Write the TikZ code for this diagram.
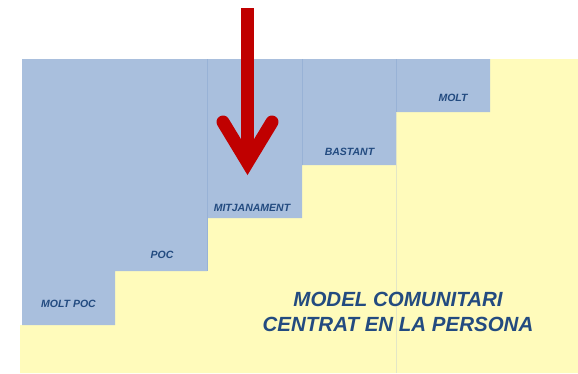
\documentclass[tikz,border=0pt]{standalone}
\usepackage{fontspec}
\setmainfont{Liberation Sans}
\usepackage{tikz}

\definecolor{stepblue}{HTML}{A9BFDD}
\definecolor{stepyellow}{HTML}{FFFBBB}
\definecolor{labelblue}{HTML}{234B80}
\definecolor{arrowred}{HTML}{C00000}
\definecolor{edgeblue}{HTML}{98B2D6}
\definecolor{edgeyellow}{HTML}{E3E6C6}

\tikzset{
  steplabel/.style={font=\fontsize{10.5}{12}\selectfont\bfseries\itshape,
    text=labelblue, anchor=base, inner sep=0pt},
  titlelabel/.style={font=\fontsize{20.5}{24.3}\selectfont\bfseries\itshape,
    text=labelblue, align=center, anchor=base, inner sep=0pt}
}

\begin{document}
\begin{tikzpicture}[x=1pt,y=-1pt]

    \useasboundingbox (0,0) rectangle (578,373);

    \fill[stepyellow] (20,373) |- (115,325) |- (207,271) |- (302,218)
      |- (396,165) |- (490,112) |- (578,59) -- (578,373) -- cycle;

    \fill[stepblue] (22,59) -- (490,59) -- (490,112) -| (396,165)
      -| (302,218) -| (207,271) -| (115,325) -- (22,325) -- cycle;

    \draw[edgeblue, line width=0.8] (207,59) -- (207,271);
    \draw[edgeblue, line width=0.8] (302,59) -- (302,165);
    \draw[edgeblue, line width=0.8] (396,59) -- (396,112);
    \draw[edgeyellow, line width=0.8] (396,112) -- (396,373);

    \node[steplabel] (moltpoc) at (68.5,307.7) {MOLT POC};
    \node[steplabel] (poc) at (162,258.3) {POC};
    \node[steplabel] (mitjanament) at (252,211.7) {MITJANAMENT};
    \node[steplabel] (bastant) at (349.5,155) {BASTANT};
    \node[steplabel] (molt) at (453,101.7) {MOLT};

    \node[titlelabel] (model) at (398,331) {MODEL COMUNITARI\\CENTRAT EN LA PERSONA};

    \coordinate (arrowtop) at (247.5,8);
    \coordinate (arrowneck) at (247.5,158);
    \coordinate (arrowtip) at (247.5,162.5);
    \coordinate (wingleft) at (223,122);
    \coordinate (wingright) at (272,122);

    \draw[arrowred, line width=13] (arrowtop) -- (arrowneck);
    \draw[arrowred, line width=13, line cap=round, line join=miter]
      (wingleft) -- (arrowtip) -- (wingright);

  \end{tikzpicture}
\end{document}
